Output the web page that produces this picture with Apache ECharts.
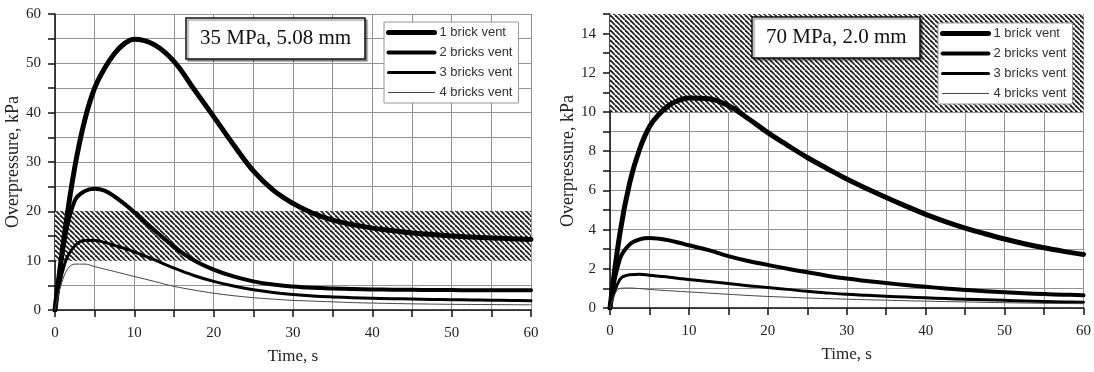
<!DOCTYPE html>
<html>
<head>
<meta charset="utf-8">
<script src="https://cdn.jsdelivr.net/npm/echarts@6/dist/echarts.min.js"></script>
<style>
html,body{margin:0;padding:0;background:#fff;}
#c{width:1094px;height:372px;}
</style>
</head>
<body>
<div id="c"></div>
<script>
// ---- data ----
var time = [0, 1.25, 2.5, 3.75, 5, 6.25, 7.5, 8.75, 10, 12.5, 15, 17.5, 20, 22.5, 25, 27.5, 30, 32.5, 35, 37.5, 40, 42.5, 45, 47.5, 50, 52.5, 55, 57.5, 60];
var seriesNames = ['1 brick vent', '2 bricks vent', '3 bricks vent', '4 bricks vent'];
// Left: 35 MPa, 5.08 mm
var left1 = [0, 16, 29, 38.5, 45, 49, 52, 54, 54.9, 53.8, 50.4, 44.8, 39.2, 33.5, 28.2, 24.3, 21.6, 19.6, 18.2, 17.3, 16.6, 16.1, 15.6, 15.3, 15.0, 14.8, 14.6, 14.45, 14.3];
var left2 = [0, 14.5, 22.2, 24.1, 24.6, 24.2, 23.0, 21.5, 19.8, 16.2, 12.8, 10.1, 8.2, 6.8, 5.8, 5.15, 4.75, 4.5, 4.35, 4.25, 4.18, 4.12, 4.08, 4.05, 4.03, 4.02, 4.01, 4, 4];
var left3 = [0, 9.5, 13, 14.1, 14.1, 13.7, 13.1, 12.5, 11.8, 10.2, 8.5, 7.0, 5.8, 4.85, 4.1, 3.55, 3.15, 2.85, 2.65, 2.5, 2.4, 2.3, 2.22, 2.15, 2.1, 2.05, 2, 1.95, 1.9];
var left4 = [0, 7.3, 9.3, 9.3, 8.8, 8.3, 7.8, 7.3, 6.8, 5.8, 4.8, 4.05, 3.4, 2.9, 2.5, 2.2, 1.95, 1.8, 1.65, 1.5, 1.4, 1.32, 1.25, 1.2, 1.15, 1.12, 1.1, 1.07, 1.05];
// Right: 70 MPa, 2.0 mm
var right1 = [0, 3.8, 6.4, 8.1, 9.25, 9.9, 10.35, 10.6, 10.72, 10.68, 10.33, 9.67, 8.95, 8.3, 7.68, 7.12, 6.58, 6.1, 5.64, 5.2, 4.78, 4.41, 4.08, 3.79, 3.52, 3.28, 3.07, 2.89, 2.73];
var right2 = [0, 2.5, 3.25, 3.5, 3.57, 3.53, 3.45, 3.33, 3.2, 2.95, 2.65, 2.4, 2.2, 2.0, 1.82, 1.65, 1.5, 1.38, 1.27, 1.17, 1.08, 1.0, 0.92, 0.86, 0.8, 0.75, 0.71, 0.68, 0.65];
var right3 = [0, 1.45, 1.7, 1.72, 1.67, 1.62, 1.57, 1.51, 1.45, 1.35, 1.25, 1.14, 1.05, 0.95, 0.85, 0.77, 0.7, 0.65, 0.6, 0.56, 0.52, 0.48, 0.45, 0.42, 0.39, 0.36, 0.33, 0.31, 0.29];
var right4 = [0, 1.0, 1.02, 0.99, 0.95, 0.91, 0.88, 0.85, 0.82, 0.76, 0.7, 0.64, 0.59, 0.55, 0.51, 0.48, 0.45, 0.42, 0.4, 0.37, 0.35, 0.33, 0.31, 0.29, 0.27, 0.255, 0.24, 0.23, 0.22];
var leftBand = [10, 20];
var rightBand = [10, 15];
var titles = ['35 MPa, 5.08 mm', '70 MPa, 2.0 mm'];
var xName = 'Time, s';
var yName = 'Overpressure, kPa';

// ---- hatch pattern ----
function hatch() {
  var s = 5, c = document.createElement('canvas');
  c.width = s; c.height = s;
  var g = c.getContext('2d');
  g.fillStyle = '#fff'; g.fillRect(0, 0, s, s);
  g.strokeStyle = '#222'; g.lineWidth = 1.8;
  [-s, 0, s].forEach(function (k) {
    g.beginPath(); g.moveTo(k, 0); g.lineTo(k + s, s); g.stroke();
  });
  return {image: c, repeat: 'repeat'};
}
var pattern = hatch();

var widths = [5, 4, 3, 1];
var colors = ['#000', '#000', '#000', '#444'];
var serif = 'Liberation Serif';

function pairs(v) { return time.map(function (t, i) { return [t, v[i]]; }); }

function makeLines(vals, gi) {
  return vals.map(function (v, i) {
    return {
      name: seriesNames[i], type: 'line', xAxisIndex: gi, yAxisIndex: gi,
      data: pairs(v), smooth: 0.4, showSymbol: false, symbol: 'none',
      lineStyle: {width: widths[i], color: colors[i], cap: 'round', join: 'round'}, itemStyle: {color: colors[i]},
      z: 3, silent: true
    };
  });
}
function bandSeries(band, gi) {
  return {
    type: 'line', xAxisIndex: gi, yAxisIndex: gi, data: [], z: 1, silent: true,
    markArea: {silent: true, itemStyle: {color: pattern, borderWidth: 0},
      data: [[{xAxis: 0, yAxis: band[0]}, {xAxis: 60, yAxis: band[1]}]]}
  };
}
function xAxis(gi) {
  return {
    type: 'value', gridIndex: gi, min: 0, max: 60, interval: 5,
    name: xName, nameLocation: 'middle', nameGap: 38,
    nameTextStyle: {fontFamily: serif, fontSize: 17, color: '#222'},
    axisLine: {lineStyle: {color: '#111', width: 1.5}},
    axisTick: {length: 7, lineStyle: {color: '#111', width: 1.5}},
    axisLabel: {margin: 16, fontFamily: serif, fontSize: 15, color: '#222',
      formatter: function (v) { return v % 10 === 0 ? v : ''; }},
    splitLine: {show: true, lineStyle: {color: '#939393', width: 1}}
  };
}
function yAxis(gi, max, interval, labelStep) {
  return {
    type: 'value', gridIndex: gi, min: 0, max: max, interval: interval,
    name: yName, nameLocation: 'middle', nameGap: 29, nameRotate: 90,
    nameTextStyle: {fontFamily: serif, fontSize: 18, color: '#222'},
    axisLine: {show: true, lineStyle: {color: '#111', width: 1.5}},
    axisTick: {show: true, length: 7, lineStyle: {color: '#111', width: 1.5}},
    axisLabel: {margin: 14, fontFamily: serif, fontSize: 15, color: '#222',
      formatter: function (v) { return Math.round(v) % labelStep === 0 ? v : ''; }},
    splitLine: {show: true, lineStyle: {color: '#939393', width: 1}}
  };
}
function legend(gi, left, top) {
  return {
    orient: 'vertical', left: left, top: top, itemWidth: 46, itemHeight: 14, itemGap: 7,
    padding: [4, 6, 4, 2], backgroundColor: '#fff', borderColor: '#999', borderWidth: 1,
    textStyle: {fontFamily: 'Liberation Sans', fontSize: 13, color: '#333'},
    selectedMode: false,
    data: seriesNames.map(function (n, i) {
      return {name: n, itemStyle: {opacity: 0}, lineStyle: {width: widths[i], color: colors[i]}};
    })
  };
}
function titleBox(text, left, top) {
  return {
    text: text, left: left, top: top, padding: [10, 14, 10, 14],
    backgroundColor: '#fff', borderColor: '#111', borderWidth: 1.5,
    shadowColor: 'rgba(0,0,0,0.35)', shadowOffsetX: 2, shadowOffsetY: 2, shadowBlur: 1,
    textStyle: {fontFamily: serif, fontSize: 21, fontWeight: 'normal', color: '#111'}
  };
}

var chart = echarts.init(document.getElementById('c'), null, {renderer: 'canvas'});
chart.setOption({
  backgroundColor: '#fff',
  animation: false,
  title: [titleBox(titles[0], 186, 18), titleBox(titles[1], 752, 17)],
  legend: [legend(0, 384, 22), legend(1, 938, 23)],
  grid: [
    {left: 55, right: 563, top: 14, bottom: 62},
    {left: 610, right: 9, top: 14, bottom: 64}
  ],
  xAxis: [xAxis(0), xAxis(1)],
  yAxis: [yAxis(0, 60, 5, 10), yAxis(1, 15, 1, 2)],
  series: [bandSeries(leftBand, 0), bandSeries(rightBand, 1)]
    .concat(makeLines([left1, left2, left3, left4], 0))
    .concat(makeLines([right1, right2, right3, right4], 1))
});
</script>
</body>
</html>
